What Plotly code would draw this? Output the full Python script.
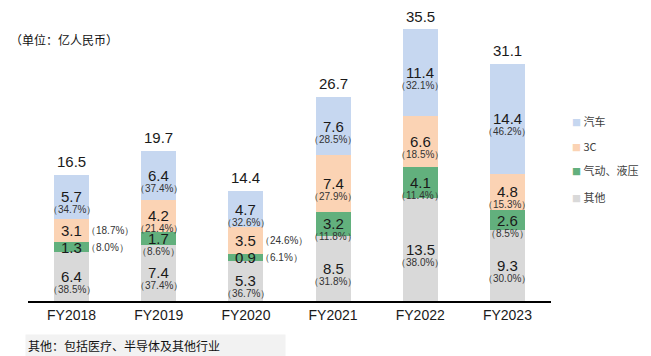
import plotly.graph_objects as go

years = ["FY2018", "FY2019", "FY2020", "FY2021", "FY2022", "FY2023"]
series_names = ["其他", "气动、液压", "3C", "汽车"]  # bottom -> top
other = [6.4, 7.4, 5.3, 8.5, 13.5, 9.3]
pneumatic = [1.3, 1.7, 0.9, 3.2, 4.1, 2.6]
c3 = [3.1, 4.2, 3.5, 7.4, 6.6, 4.8]
auto = [5.7, 6.4, 4.7, 7.6, 11.4, 14.4]
other_pct = ["38.5%", "37.4%", "36.7%", "31.8%", "38.0%", "30.0%"]
pneumatic_pct = ["8.0%", "8.6%", "6.1%", "11.8%", "11.4%", "8.5%"]
c3_pct = ["18.7%", "21.4%", "24.6%", "27.9%", "18.5%", "15.3%"]
auto_pct = ["34.7%", "37.4%", "32.6%", "28.5%", "32.1%", "46.2%"]
totals = [16.5, 19.7, 14.4, 26.7, 35.5, 31.1]

colors = ["#d9d9d9", "#62b07d", "#fbd3b4", "#c6d7f0"]
values = [other, pneumatic, c3, auto]
pcts = [other_pct, pneumatic_pct, c3_pct, auto_pct]
# labels placed to the right of the bar (year index, series index)
outside = {(0, 1), (0, 2), (2, 1), (2, 2)}

fig = go.Figure()
for name, vals, col in zip(series_names, values, colors):
    fig.add_trace(go.Bar(x=years, y=vals, name=name, marker=dict(color=col, line=dict(width=0)),
                         width=0.4, showlegend=False, hoverinfo="skip"))

ann = []
for i, yr in enumerate(years):
    base = 0.0
    for s, vals in enumerate(values):
        v = vals[i]
        mid = base + v / 2
        ann.append(dict(x=yr, y=mid, text=f"{v:.1f}", showarrow=False, yanchor="middle",
                        font=dict(size=15, color="#1a1a1a", family="Liberation Sans, Arial")))
        if (i, s) in outside:
            ann.append(dict(x=yr, y=mid, text=f"（{pcts[s][i]}）", showarrow=False, xanchor="left",
                            yanchor="middle", xshift=12,
                            font=dict(size=10, color="#333333", family="Liberation Sans, Arial")))
        else:
            ann.append(dict(x=yr, y=mid, text=f"（{pcts[s][i]}）", showarrow=False, yanchor="middle",
                            yshift=-13,
                            font=dict(size=10, color="#333333", family="Liberation Sans, Arial")))
        base += v
    ann.append(dict(x=yr, y=totals[i], text=f"{totals[i]:.1f}", showarrow=False, yanchor="bottom",
                    yshift=3, font=dict(size=15, color="#1a1a1a", family="Liberation Sans, Arial")))

# legend (manual, top item first)
leg_y = [0.621, 0.534, 0.452, 0.359]
for k, s in enumerate(reversed(range(4))):
    ann.append(dict(xref="paper", yref="paper", x=1.036, y=leg_y[k], xanchor="left", yanchor="middle",
                    showarrow=False,
                    text=f"<span style='color:{colors[s]};font-size:9px'>■</span> {series_names[s]}",
                    font=dict(size=11, color="#404040", family="Noto Sans CJK SC")))

ann.append(dict(xref="paper", yref="paper", x=-0.038, y=0.9, xanchor="left", yanchor="middle",
                showarrow=False, text="（单位：亿人民币）",
                font=dict(size=12, color="#111111", family="Noto Sans CJK SC")))
ann.append(dict(xref="paper", yref="paper", x=-0.006, y=-0.152, xanchor="left", yanchor="middle",
                showarrow=False, text="其他：包括医疗、半导体及其他行业", align="left",
                bgcolor="#f2f2f2", borderpad=2, width=255,
                font=dict(size=12, color="#111111", family="Noto Sans CJK SC")))

# page body adds an 8px margin, so the figure is drawn 8px smaller and offset accordingly
fig.update_layout(
    barmode="stack",
    width=643, height=348,
    margin=dict(l=20, r=100, t=3, b=55),
    paper_bgcolor="white", plot_bgcolor="white",
    annotations=ann,
    xaxis=dict(showline=True, linecolor="#000000", linewidth=1.5, ticks="", showgrid=False,
               tickfont=dict(size=14, color="#1a1a1a", family="Liberation Sans, Arial")),
    yaxis=dict(visible=False, range=[0, 38]),
    showlegend=False,
)
fig.write_html("out.html")
